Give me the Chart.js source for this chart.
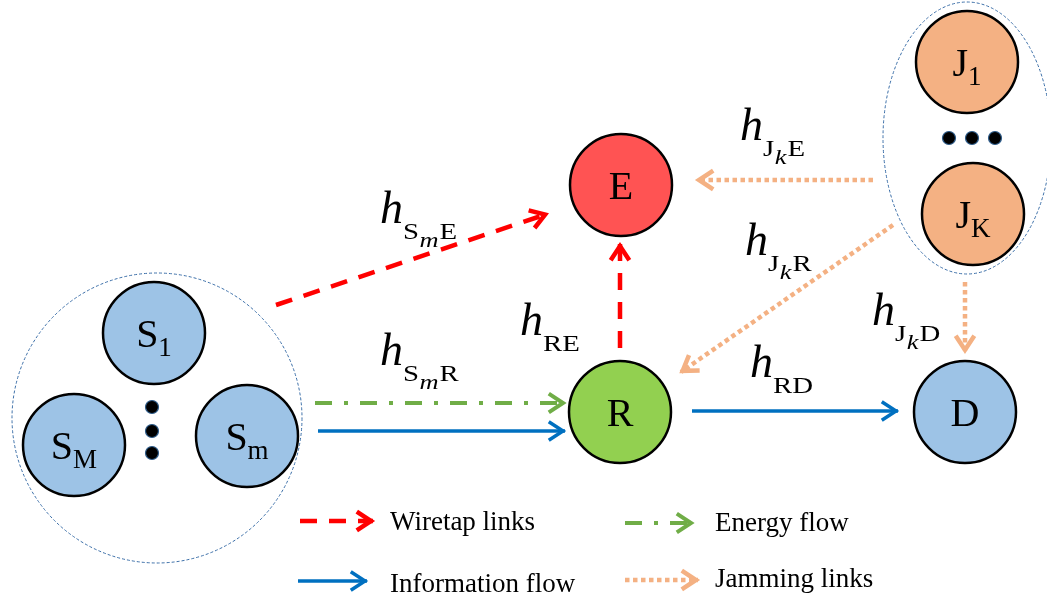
<!DOCTYPE html>
<html><head><meta charset="utf-8">
<script src="https://cdn.jsdelivr.net/npm/chart.js@4/dist/chart.umd.min.js"></script>
<style>html,body{margin:0;padding:0;background:#fff;overflow:hidden;} canvas{display:block;}</style>
</head><body>
<canvas id="c" width="1047" height="601"></canvas>
<script>
// ---------- data ----------
// nodes
const nodeMain = ['S','S','S','E','R','D','J','J'];
const nodeSub  = ['1','M','m','','','','1','K'];
const nodeX    = [154, 74, 247, 621, 620, 965, 967, 973];
const nodeY    = [333, 445, 436, 185, 412, 412, 62, 214];
const nodeKind = ['user','user','user','eve','relay','user','jam','jam'];

// ellipsis dots inside groups
const dotX = [152, 152, 152, 949, 972, 995];
const dotY = [407, 431, 453, 138, 138, 138];

// node groups (dashed outlines)
const groupX  = [157, 967];
const groupY  = [418, 138];
const groupRX = [145, 84];
const groupRY = [145, 136];

// links (start -> arrow tip)
const linkType = ['wiretap','wiretap','energy','info','info','jam','jam','jam'];
const linkX0 = [276, 620, 315, 318, 692, 873, 893, 965];
const linkY0 = [305, 348, 403, 431, 411, 180, 225, 282];
const linkX1 = [547, 620, 565, 565, 898, 697, 681, 965];
const linkY1 = [214, 244, 403, 431, 411, 180, 372, 352];

// channel labels h_{sub1 sub2 sub3}
const chSub1 = ['S','S','RE','J','J','J','RD'];
const chSub2 = ['m','m','','k','k','k',''];
const chSub3 = ['E','R','','E','R','D',''];
const chX = [380, 380, 520, 740, 745, 872, 750];
const chY = [223, 365, 335, 140, 255, 325, 377];

// legend
const legendLabels = ['Wiretap links','Energy flow','Information flow','Jamming links'];
const legendType   = ['wiretap','energy','info','jam'];
const legendX0 = [300, 625, 298, 625];
const legendX1 = [373, 693, 367, 698];
const legendY  = [521, 523, 581, 580];
const legendTextX = [390, 715, 390, 715];
const legendTextY = [530, 531, 592, 587];

// ---------- styles ----------
const styles = {
  wiretap: {color:'#FF0000', width:4.5, dash:[17,12]},
  energy:  {color:'#70AD47', width:4,   dash:[17,12,4,12]},
  info:    {color:'#0070C0', width:3.5, dash:[]},
  jam:     {color:'#F4B183', width:4.5, dash:[4.5,3.5]}
};
const fills = {user:'#9DC3E6', eve:'#FF5353', relay:'#92D050', jam:'#F4B183'};
const SERIF = '"Liberation Serif","Times New Roman",serif';

// ---------- datasets ----------
const datasets = [];
function addArrow(t, x0, y0, x1, y1) {
  const s = styles[t];
  datasets.push({
    type:'line', data:[{x:x0,y:y0},{x:x1,y:y1}],
    borderColor:s.color, borderWidth:s.width, borderDash:s.dash,
    pointRadius:0, fill:false, tension:0, order:2, clip:false, arrow:true
  });
}
linkType.forEach((t,i)=>addArrow(t, linkX0[i], linkY0[i], linkX1[i], linkY1[i]));
legendType.forEach((t,i)=>addArrow(t, legendX0[i], legendY[i], legendX1[i], legendY[i]));

datasets.push({
  type:'bubble',
  data: nodeX.map((x,i)=>({x, y:nodeY[i], r:51})),
  backgroundColor: nodeKind.map(k=>fills[k]),
  borderColor:'#000', borderWidth:2.5, order:0, clip:false
});
datasets.push({
  type:'bubble',
  data: dotX.map((x,i)=>({x, y:dotY[i], r:6.5})),
  backgroundColor:'#000', borderColor:'#2E5C8A', borderWidth:1.2, order:0, clip:false
});

// ---------- plugin ----------
const diagramPlugin = {
  id:'diagram',
  beforeDatasetsDraw(chart) {
    const {ctx, scales:{x, y}} = chart;
    ctx.save();
    ctx.strokeStyle = '#3C6FA8';
    ctx.lineWidth = 1;
    ctx.setLineDash([3,2]);
    groupX.forEach((gx,i)=>{
      const px = x.getPixelForValue(gx), py = y.getPixelForValue(groupY[i]);
      const rx = Math.abs(x.getPixelForValue(gx+groupRX[i]) - px);
      const ry = Math.abs(y.getPixelForValue(groupY[i]+groupRY[i]) - py);
      ctx.beginPath();
      ctx.ellipse(px, py, rx, ry, 0, 0, Math.PI*2);
      ctx.stroke();
    });
    ctx.restore();
  },
  afterDatasetsDraw(chart) {
    const {ctx, scales:{x, y}} = chart;
    ctx.save();
    // arrow heads
    chart.data.datasets.forEach((ds, i)=>{
      if (!ds.arrow) return;
      const meta = chart.getDatasetMeta(i);
      const p0 = meta.data[0], p1 = meta.data[1];
      const a = Math.atan2(p1.y-p0.y, p1.x-p0.x);
      const L = 17, th = 0.58;
      const tx = p1.x - 2*Math.cos(a), ty = p1.y - 2*Math.sin(a);
      ctx.setLineDash([]);
      ctx.strokeStyle = ds.borderColor;
      ctx.lineWidth = ds.borderWidth;
      ctx.lineJoin = 'miter';
      ctx.lineCap = 'butt';
      ctx.beginPath();
      ctx.moveTo(tx - L*Math.cos(a-th), ty - L*Math.sin(a-th));
      ctx.lineTo(tx, ty);
      ctx.lineTo(tx - L*Math.cos(a+th), ty - L*Math.sin(a+th));
      ctx.stroke();
    });
    ctx.fillStyle = '#000';
    ctx.textBaseline = 'alphabetic';
    ctx.textAlign = 'left';
    // node labels
    nodeMain.forEach((m,i)=>{
      const cx = x.getPixelForValue(nodeX[i]), cy = y.getPixelForValue(nodeY[i]);
      const mf = '40px ' + SERIF, sf = '27px ' + SERIF;
      ctx.font = mf;
      const w1 = ctx.measureText(m).width;
      ctx.font = sf;
      const w2 = nodeSub[i] ? ctx.measureText(nodeSub[i]).width : 0;
      const sx = cx - (w1+w2)/2, base = cy + 14;
      ctx.font = mf;
      ctx.fillText(m, sx, base);
      if (nodeSub[i]) { ctx.font = sf; ctx.fillText(nodeSub[i], sx + w1, base + 9); }
    });
    // channel labels
    const SX = 1.2;
    function subText(t, font, px, py) {
      ctx.save();
      ctx.font = font;
      ctx.translate(px, py);
      ctx.scale(SX, 1);
      ctx.fillText(t, 0, 0);
      const w = ctx.measureText(t).width * SX;
      ctx.restore();
      return w;
    }
    chX.forEach((vx,i)=>{
      let px = x.getPixelForValue(vx);
      const py = y.getPixelForValue(chY[i]);
      ctx.font = 'italic 46px ' + SERIF;
      ctx.fillText('h', px, py);
      px += ctx.measureText('h').width;
      px += subText(chSub1[i], '24px ' + SERIF, px, py + 16);
      if (chSub2[i]) {
        px += subText(chSub2[i], 'italic 22px ' + SERIF, px + 0.5, py + 24) + 1.5;
      }
      if (chSub3[i]) subText(chSub3[i], '24px ' + SERIF, px, py + 16);
    });
    // legend texts
    ctx.font = '27px ' + SERIF;
    legendLabels.forEach((t,i)=>{
      ctx.fillText(t, x.getPixelForValue(legendTextX[i]), y.getPixelForValue(legendTextY[i]));
    });
    ctx.restore();
  }
};

new Chart(document.getElementById('c'), {
  type:'scatter',
  data:{datasets},
  options:{
    responsive:false, animation:false, devicePixelRatio:1, events:[],
    layout:{padding:0, autoPadding:false},
    plugins:{legend:{display:false}, tooltip:{enabled:false}},
    scales:{
      x:{type:'linear', min:0, max:1047, display:false},
      y:{type:'linear', min:0, max:601, reverse:true, display:false}
    }
  },
  plugins:[diagramPlugin]
});
</script>
</body></html>
